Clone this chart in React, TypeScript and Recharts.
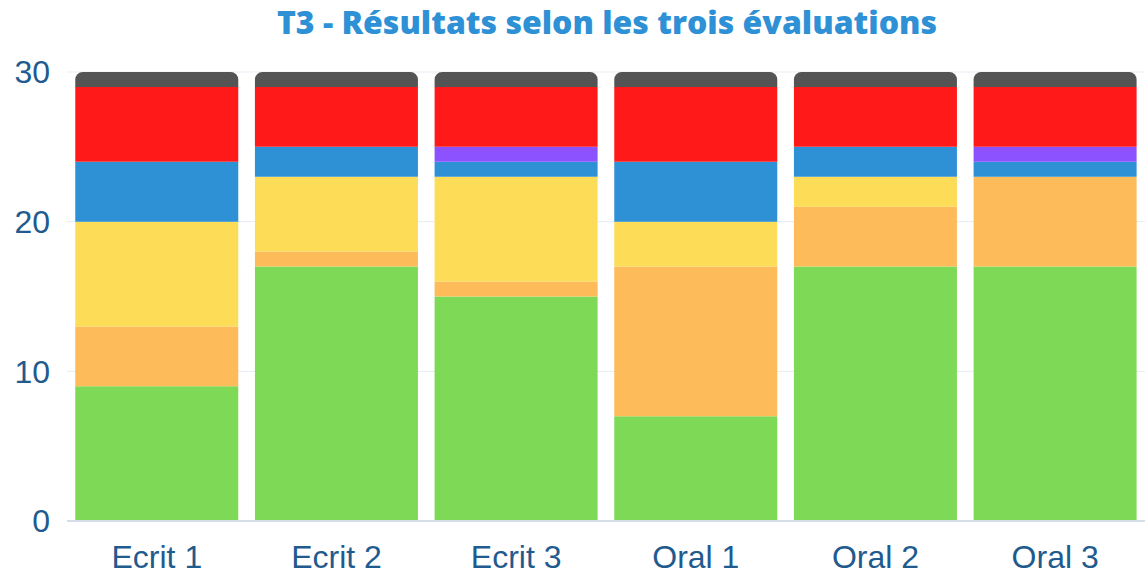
import { BarChart, Bar, XAxis, YAxis, CartesianGrid } from 'recharts';

const categories = ['Ecrit 1', 'Ecrit 2', 'Ecrit 3', 'Oral 1', 'Oral 2', 'Oral 3'];

// stacked from bottom to top
const vert = [9, 17, 15, 7, 17, 17];
const orange = [4, 1, 1, 10, 4, 6];
const jaune = [7, 5, 7, 3, 2, 0];
const bleu = [4, 2, 1, 4, 2, 1];
const violet = [0, 0, 1, 0, 0, 1];
const rouge = [5, 4, 4, 5, 4, 4];
const gris = [1, 1, 1, 1, 1, 1];

const yTicks = [0, 10, 20, 30];

const series = [
  { key: 'vert', values: vert, color: '#7ED957' },
  { key: 'orange', values: orange, color: '#FDBB59' },
  { key: 'jaune', values: jaune, color: '#FDDC57' },
  { key: 'bleu', values: bleu, color: '#2E90D5' },
  { key: 'violet', values: violet, color: '#8C52FF' },
  { key: 'rouge', values: rouge, color: '#FF1919' },
  { key: 'gris', values: gris, color: '#545454' },
];

const data = categories.map((name, i) => {
  const row: Record<string, string | number> = { name };
  series.forEach((s) => {
    row[s.key] = s.values[i];
  });
  return row;
});

const tickStyle = {
  fontSize: 32,
  fill: '#1F5B8E',
  fontFamily: '"Liberation Sans", Arial, sans-serif',
};

export default function App() {
  return (
    <div style={{ position: 'absolute', left: 0, top: 0, width: 1148, height: 576, background: '#fff' }}>
      <div
        style={{
          position: 'absolute',
          top: 0,
          left: 0,
          width: 1214,
          textAlign: 'center',
          fontFamily: '"Open Sans", sans-serif',
          fontWeight: 800,
          fontSize: 32,
          lineHeight: '44px',
          color: '#2E90D5',
          letterSpacing: 0,
        }}
      >
        T3 - Résultats selon les trois évaluations
      </div>
      <BarChart
        width={1148}
        height={576}
        data={data}
        margin={{ top: 72, right: 3, left: 0, bottom: 0 }}
        barCategoryGap="4.6%"
      >
        <CartesianGrid vertical={false} stroke="#E6ECF3" />
        <XAxis
          dataKey="name"
          height={55}
          tick={tickStyle}
          tickLine={false}
          tickSize={0}
          tickMargin={24}
          axisLine={{ stroke: '#D5DEE8', strokeWidth: 2 }}
          interval={0}
        />
        <YAxis
          domain={[0, 30]}
          ticks={yTicks}
          width={67}
          tick={tickStyle}
          tickLine={false}
          tickSize={0}
          tickMargin={17}
          axisLine={false}
        />
        {series.map((s, idx) => (
          <Bar
            key={s.key}
            dataKey={s.key}
            stackId="a"
            fill={s.color}
            isAnimationActive={false}
            radius={idx === series.length - 1 ? [13, 13, 0, 0] : 0}
          />
        ))}
      </BarChart>
    </div>
  );
}
